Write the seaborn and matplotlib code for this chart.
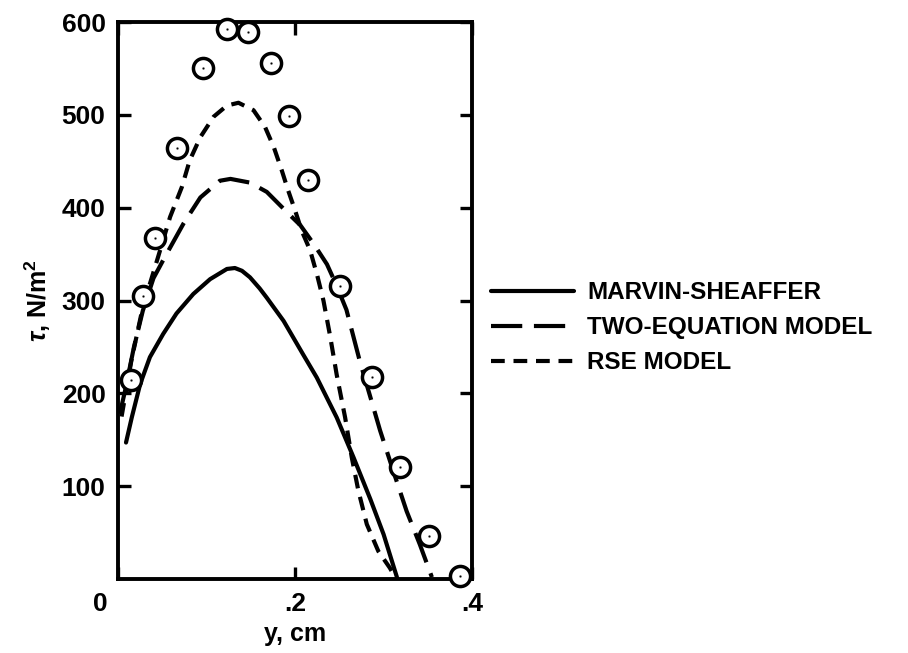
import matplotlib
matplotlib.use("Agg")
import matplotlib.pyplot as plt
import matplotlib.transforms as mtransforms
import seaborn as sns
import pandas as pd

# Measured shear stress across the layer
y_meas = [0.015, 0.028, 0.042, 0.067, 0.096, 0.123, 0.147, 0.173, 0.193, 0.215,
          0.251, 0.287, 0.319, 0.351, 0.386]
tau_meas = [214, 305, 367, 464, 550, 593, 589, 556, 499, 430,
            316, 218, 121, 46, 3]

# Marvin-Sheaffer prediction
y_ms = [0.009, 0.0155, 0.025, 0.036, 0.051, 0.066, 0.085, 0.104, 0.123, 0.132,
        0.140, 0.149, 0.160, 0.168, 0.187, 0.198, 0.209, 0.2245, 0.247, 0.266,
        0.285, 0.300, 0.315]
tau_ms = [147, 174, 210, 239, 264, 286, 307, 323, 334, 335,
          332, 325, 313, 303, 278, 260, 242, 217, 174, 131,
          86, 48, 2]

# Two-equation model prediction
y_te = [0.002, 0.008, 0.018, 0.028, 0.040, 0.053, 0.074, 0.093, 0.115, 0.127,
        0.149, 0.168, 0.191, 0.206, 0.221, 0.236, 0.246, 0.258, 0.273, 0.285,
        0.296, 0.311, 0.326, 0.341, 0.3545]
tau_te = [178, 203, 250, 289, 324, 347, 383, 411, 429, 431,
          427, 417, 395, 381, 361, 339, 318, 290, 235, 196,
          160, 116, 73, 37, 2]

# RSE model prediction
y_rse = [0.004, 0.015, 0.028, 0.044, 0.0588, 0.072, 0.081, 0.093, 0.108, 0.123,
         0.136, 0.153, 0.166, 0.176, 0.185, 0.192, 0.200, 0.2075, 0.217, 0.225,
         0.232, 0.2395, 0.247, 0.2565, 0.264, 0.2715, 0.281, 0.294, 0.307, 0.313]
tau_rse = [175, 235, 293, 343, 390, 422, 451, 476, 498, 510,
           513, 505, 487, 465, 440, 419, 397, 375, 354, 327,
           300, 262, 220, 174, 131, 95, 59, 30, 12, 2]

models = ["MARVIN-SHEAFFER", "TWO-EQUATION MODEL", "RSE MODEL"]
curves = pd.concat([
    pd.DataFrame({"y": y_ms, "tau": tau_ms, "model": models[0]}),
    pd.DataFrame({"y": y_te, "tau": tau_te, "model": models[1]}),
    pd.DataFrame({"y": y_rse, "tau": tau_rse, "model": models[2]}),
], ignore_index=True)
points = pd.DataFrame({"y": y_meas, "tau": tau_meas})

sns.set_style("ticks")
plt.rcParams["font.family"] = ["Liberation Sans", "DejaVu Sans"]
plt.rcParams["font.weight"] = "bold"
plt.rcParams["text.color"] = "black"
plt.rcParams["axes.labelcolor"] = "black"
plt.rcParams["xtick.color"] = "black"
plt.rcParams["ytick.color"] = "black"
plt.rcParams["mathtext.fontset"] = "custom"
plt.rcParams["mathtext.rm"] = "Liberation Sans:bold"
plt.rcParams["mathtext.it"] = "Liberation Sans:italic:bold"
plt.rcParams["mathtext.bf"] = "Liberation Sans:bold"

fig = plt.figure(figsize=(9.08, 6.53), dpi=100)
ax = fig.add_axes([0.130, 0.1133, 0.390, 0.853])

lw = 3.0
sns.lineplot(data=curves, x="y", y="tau", style="model", style_order=models,
             dashes={models[0]: "", models[1]: (7.5, 2.8), models[2]: (3.3, 2.1)},
             color="black", linewidth=lw, sort=False, estimator=None, ax=ax)
for ln in ax.lines:
    ln.set_linewidth(lw)
    ln.set_solid_joinstyle("round")
    ln.set_dash_capstyle("butt")

sns.scatterplot(data=points, x="y", y="tau", s=210, facecolor="white",
                edgecolor="black", linewidth=2.5, zorder=5, ax=ax, clip_on=False)
sns.scatterplot(data=points, x="y", y="tau", s=3, color="black",
                zorder=6, ax=ax, clip_on=False)

ax.set_xlim(0, 0.4)
ax.set_ylim(0, 600)
ax.set_xticks([0, 0.2, 0.4])
ax.set_xticklabels(["0", ".2", ".4"])
ax.set_yticks([100, 200, 300, 400, 500, 600])
ax.set_yticklabels(["100", "200", "300", "400", "500", "600"])
ax.tick_params(direction="in", length=9, width=2.4, labelsize=19,
               top=True, right=True, pad=9)
for s in ax.spines.values():
    s.set_linewidth(2.8)
    s.set_color("black")
for lab in ax.get_xticklabels() + ax.get_yticklabels():
    lab.set_fontweight("bold")
# the origin label sits a little left of the corner
zero_lab = ax.get_xticklabels()[0]
zero_lab.set_transform(zero_lab.get_transform() +
                       mtransforms.ScaledTranslation(-0.18, 0, fig.dpi_scale_trans))

ax.set_xlabel("y, cm", fontsize=18, fontweight="bold", labelpad=5)
ax.set_ylabel(r"$\tau$, N/m$^2$", fontsize=18, fontweight="bold", labelpad=6)

handles, labels = ax.get_legend_handles_labels()
leg = ax.legend(handles[:3], labels[:3], loc="center left",
                bbox_to_anchor=(0.530, 0.498), bbox_transform=fig.transFigure,
                frameon=False, handlelength=3.4, handletextpad=0.55,
                labelspacing=0.5, borderaxespad=0,
                prop={"weight": "bold", "size": 17.5})
for h in leg.get_lines():
    h.set_linewidth(lw)

fig.savefig("out.png", dpi=100)
